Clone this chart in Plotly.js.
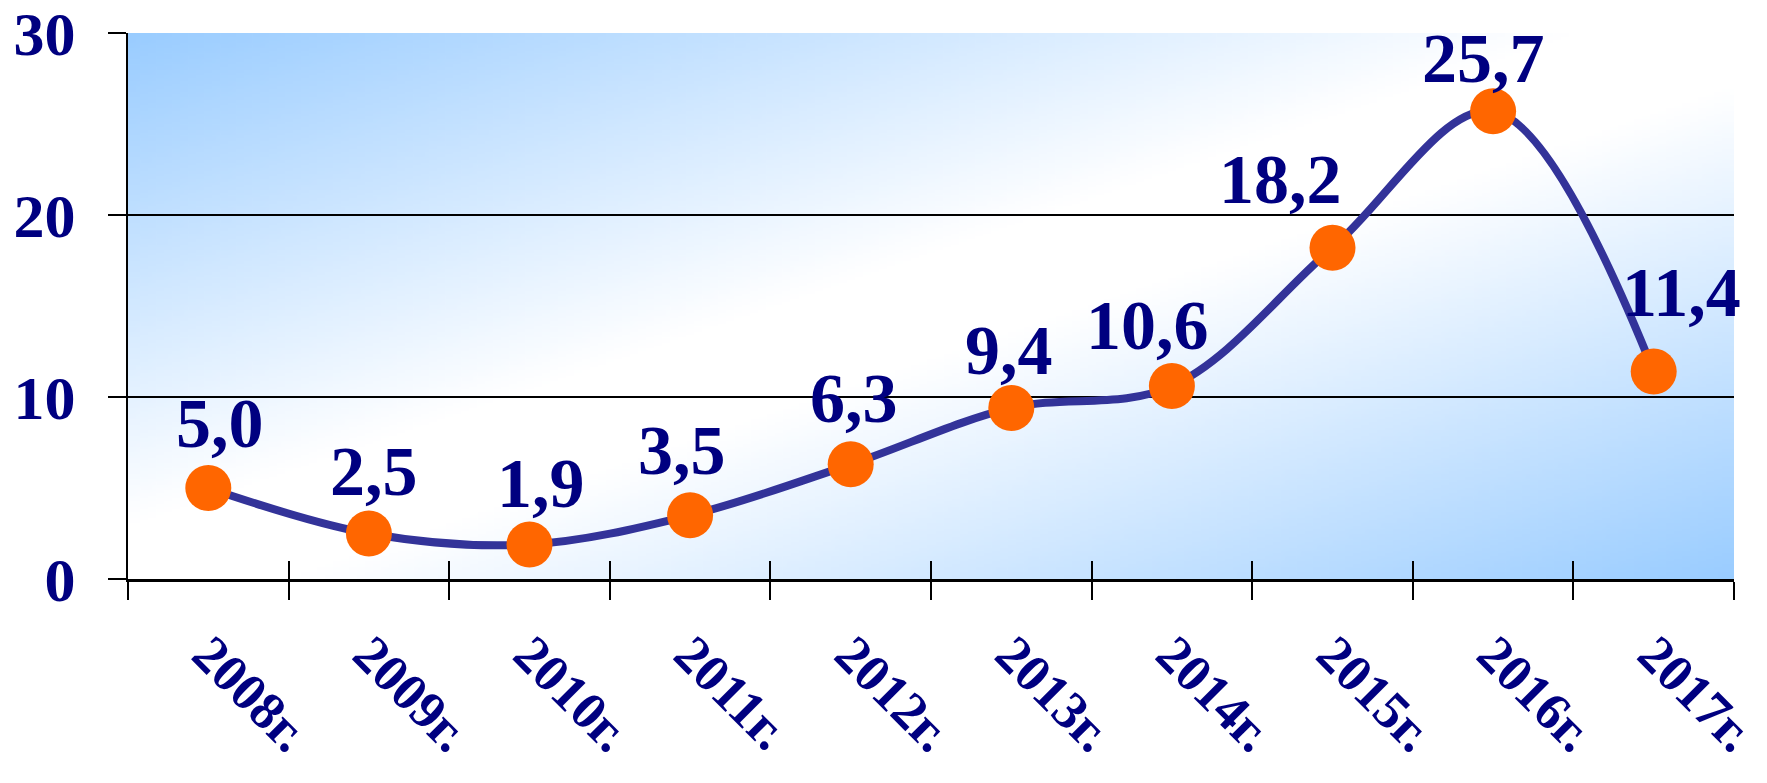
<!DOCTYPE html>
<html><head><meta charset="utf-8">
<script src="https://cdn.plot.ly/plotly-3.0.1.min.js"></script>
<style>html,body{margin:0;padding:0;background:#fff;} #chart{width:1767px;height:783px;}</style>
</head><body><div id="chart"></div>
<script>
const years = ['2008г.', '2009г.', '2010г.', '2011г.', '2012г.', '2013г.', '2014г.', '2015г.', '2016г.', '2017г.'];
const values = [5.0, 2.5, 1.9, 3.5, 6.3, 9.4, 10.6, 18.2, 25.7, 11.4];
const yTickVals = [0, 10, 20, 30];
const yTickText = ['0', '10', '20', '30'];

// label nudges (pixels) for data labels, relative to the point
const labelNudgeX = [12, 5, 11, -8, 3, -2, -24, -52, -10, 28];
const labelNudgeY = [24, 22, 20, 24, 25, 17, 20, 28, 12, 39];

const navy = '#000080';
const serif = 'Liberation Serif, Times New Roman, serif';

// gradient background for plot area
const cv = document.createElement('canvas');
cv.width = 200; cv.height = 200;
const ctx = cv.getContext('2d');
const g = ctx.createLinearGradient(0, 0, 200, 200);
g.addColorStop(0, '#99CCFF');
g.addColorStop(0.45, '#FFFFFF');
g.addColorStop(0.55, '#FFFFFF');
g.addColorStop(1, '#99CCFF');
ctx.fillStyle = g;
ctx.fillRect(0, 0, 200, 200);
const bgURL = cv.toDataURL('image/png');

const labels = values.map(v => v.toFixed(1).replace('.', ','));

const traces = [
  {
    x: years, y: values, type: 'scatter', mode: 'lines+markers',
    line: {color: '#333399', width: 8, shape: 'spline', smoothing: 1},
    marker: {color: '#FF6600', size: 46, line: {width: 0}},
    cliponaxis: false, hoverinfo: 'skip', showlegend: false
  },
  {
    x: years, y: values, xaxis: 'x2', type: 'scatter', mode: 'none',
    hoverinfo: 'skip', showlegend: false
  }
];

const annotations = values.map((v, i) => ({
  x: years[i], y: v, xref: 'x', yref: 'y',
  text: labels[i], showarrow: false,
  xanchor: 'center', yanchor: 'bottom',
  xshift: labelNudgeX[i], yshift: labelNudgeY[i],
  font: {family: serif, size: 70, color: navy, weight: 'bold'}
}));

const layout = {
  width: 1767, height: 783,
  margin: {l: 128, r: 33, t: 33, b: 204, pad: 0},
  paper_bgcolor: '#FFFFFF',
  plot_bgcolor: 'rgba(0,0,0,0)',
  showlegend: false,
  images: [{
    source: bgURL, xref: 'x domain', yref: 'y domain',
    x: 0, y: 1, sizex: 1, sizey: 1, sizing: 'stretch',
    xanchor: 'left', yanchor: 'top', layer: 'below'
  }],
  xaxis: {
    type: 'category', categoryarray: years, categoryorder: 'array',
    range: [-0.5, 9.5], tickson: 'boundaries',
    ticks: 'outside', ticklen: 18, tickwidth: 2, tickcolor: '#000',
    showline: true, linewidth: 3, linecolor: '#000',
    showgrid: false, zeroline: false, tickangle: 45,
    ticklabelstandoff: 20, ticklabeloverflow: 'allow',
    tickfont: {family: serif, size: 53, color: navy, weight: 'bold'},
    fixedrange: true
  },
  xaxis2: {
    type: 'category', categoryarray: years, categoryorder: 'array',
    overlaying: 'x', anchor: 'y', side: 'bottom',
    range: [-0.5, 9.5], tickson: 'boundaries',
    ticks: 'inside', ticklen: 18, tickwidth: 2, tickcolor: '#000',
    showticklabels: false, showline: false, showgrid: false, zeroline: false,
    fixedrange: true
  },
  yaxis: {
    range: [0, 30], tickvals: yTickVals, ticktext: yTickText,
    ticks: 'outside', ticklen: 18, tickwidth: 2, tickcolor: '#000',
    showline: true, linewidth: 2, linecolor: '#000',
    showgrid: true, gridcolor: '#000', gridwidth: 2, zeroline: false,
    ticklabelstandoff: 20, ticklabeloverflow: 'allow',
    tickfont: {family: serif, size: 62, color: navy, weight: 'bold'},
    fixedrange: true
  },
  annotations: annotations
};

Plotly.newPlot('chart', traces, layout, {displayModeBar: false, staticPlot: true});
</script>
</body></html>
